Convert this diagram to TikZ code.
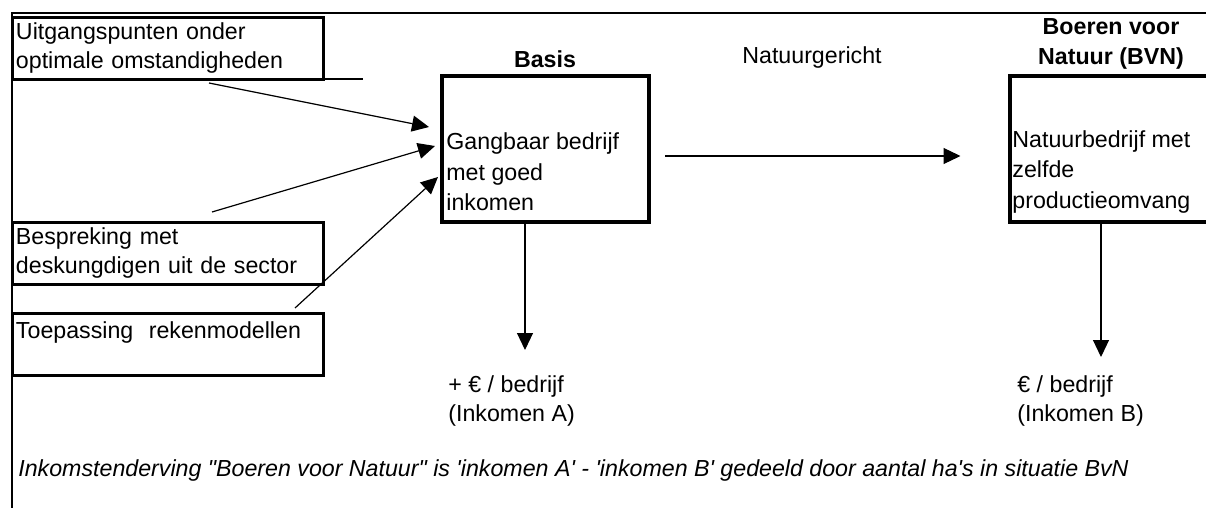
\documentclass[tikz,border=0pt]{standalone}
\usepackage{fontspec}
\setmainfont{Liberation Sans}[Ligatures=TeXOff]
\usetikzlibrary{arrows.meta}
\tikzset{
  inbox/.style={draw, line width=1.5pt, anchor=north west, inner sep=1.5pt,
    text width=152pt, minimum width=155.5pt, minimum height=31pt, align=left},
  bigbox/.style={draw, line width=2pt, minimum width=103.5pt, minimum height=73pt},
  txt/.style={inner sep=0pt, align=left},
  boxtxt/.style={txt, anchor=west, font=\fontsize{11.6}{15.2}\selectfont},
  pijl/.style={line width=0.6pt, -{Triangle[length=8.5pt,width=8pt]}},
}
\begin{document}
\begin{tikzpicture}[x=0.5pt, y=-0.5pt, font=\fontsize{11.6}{14.5}\selectfont]
\useasboundingbox (0,0) rectangle (1206,508);
\clip (0,0) rectangle (1206,508);
\draw[line width=0.6pt] (12,508) -- (12,13) -- (1206,13);
\node[inbox] (uitg) at (11,16) {Uitgangspunten onder\\optimale omstandigheden};
\draw[line width=0.6pt] (53,79) -- (363,79);
\node[inbox] (besp) at (11,221) {Bespreking met\\deskungdigen uit de sector};
\node[inbox] (toep) at (11,312) {Toepassing\ \ rekenmodellen\\\mbox{}};
\node[bigbox] (basis) at (545.5,149) {};
\node[boxtxt] (basistxt) at (446,172) {Gangbaar bedrijf\\met goed\\inkomen};
\node[font=\fontsize{11.6}{14.5}\selectfont\bfseries] (basiskop) at (545,59) {Basis};
\node (richting) at (812,58) {Natuurgericht};
\node[bigbox] (bvn) at (1113,149) {};
\node[boxtxt] (bvntxt) at (1012,172) {Natuurbedrijf met\\zelfde\\productieomvang};
\node[align=center, font=\fontsize{11.6}{15}\selectfont\bfseries] (bvnkop) at (1111,44) {Boeren voor\\Natuur (BVN)};
\coordinate (c-uitg) at (209,83);
\coordinate (c-besp) at (212,212);
\coordinate (c-toep) at (295,308);
\draw[pijl] (c-uitg) -- ([xshift=-5.5pt, yshift=11pt]basis.west);
\draw[pijl] (c-besp) -- ([xshift=-2.5pt, yshift=1.5pt]basis.west);
\draw[pijl] (c-toep) -- ([xshift=-1pt, yshift=-14pt]basis.west);
\draw[pijl] ([xshift=7pt, yshift=-3.5pt]basis.east) -- ([xshift=-23.5pt, yshift=-3.5pt]bvn.west);
\coordinate (pA) at (525,350);
\coordinate (pB) at (1101,357);
\draw[pijl] (basis.south -| pA) -- (pA);
\draw[pijl] (bvn.south -| pB) -- (pB);
\node[txt, anchor=west] (inkA) at (448,401) {+ € / bedrijf\\(Inkomen A)};
\node[txt, anchor=west] (inkB) at (1017,401) {€ / bedrijf\\(Inkomen B)};
\node[txt, anchor=west, font=\fontsize{11.6}{14.5}\selectfont\itshape] (uitleg) at (18,470) {Inkomstenderving "Boeren voor Natuur" is 'inkomen A' - 'inkomen B' gedeeld door aantal ha's in situatie BvN};
\end{tikzpicture}
\end{document}
